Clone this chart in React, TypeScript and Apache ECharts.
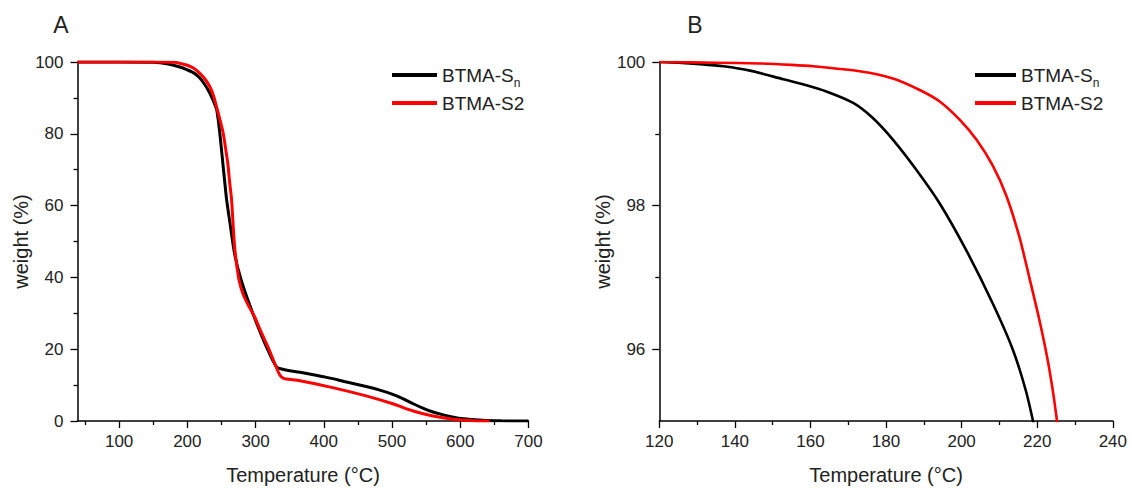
import React, { useEffect, useRef } from "react";
import * as echarts from "echarts";

const FONT = '"Liberation Sans", Arial, Helvetica, sans-serif';

const seriesNames = ["BTMA-Sn", "BTMA-S2"];

// Panel A – full TGA range
const tempA_Sn = [39, 100, 150, 170, 189, 200, 210, 218, 226, 233, 238, 243, 247.5, 252.4, 257.4, 262.2, 269.5, 279.3, 296.3, 316, 330.6, 340, 350, 365, 400, 413, 430, 462, 482, 500, 515, 531, 545, 560, 575, 590, 605, 619, 640, 660, 700];
const weightA_Sn = [100, 100, 99.9, 99.5, 98.6, 97.8, 96.9, 95.6, 93.6, 91.3, 89.2, 86.7, 80.3, 71.1, 61.9, 55.5, 46.3, 39.0, 29.8, 20.6, 15.1, 14.4, 14.0, 13.6, 12.3, 11.8, 11.0, 9.6, 8.6, 7.5, 6.3, 4.8, 3.6, 2.5, 1.7, 1.05, 0.6, 0.4, 0.15, 0.05, 0];

const tempA_S2 = [39, 150, 180, 190, 200, 210, 218, 226, 233, 238, 242.7, 247, 252.4, 256, 259.7, 262, 264.7, 266.5, 268, 270, 272.9, 276, 281.7, 290, 298.8, 308, 318.3, 327, 335.5, 340, 345, 365, 413, 462, 501, 531, 560, 589, 619, 643];
const weightA_S2 = [100, 100, 99.9, 99.6, 99.1, 98.2, 96.9, 95.2, 93.1, 90.8, 87.6, 84.5, 80.3, 76, 71.1, 66.5, 61.9, 56.5, 51.8, 47, 42.7, 39, 35.3, 32, 28.9, 24.8, 20.6, 16.5, 12.8, 12.0, 11.7, 11.2, 9.3, 7.0, 4.8, 2.8, 1.4, 0.5, 0.1, 0];

// Panel B – zoom on onset of decomposition
const tempB_Sn = [120, 125, 130.8, 137, 144, 152.8, 158, 164.2, 171.3, 176.5, 181.8, 188, 194.2, 201.2, 208.2, 213.5, 217.1, 219.5];
const weightB_Sn = [100, 99.99, 99.97, 99.94, 99.88, 99.76, 99.69, 99.59, 99.43, 99.22, 98.92, 98.5, 98.03, 97.38, 96.64, 96.0, 95.4, 94.85];

const tempB_S2 = [120, 135, 146.6, 155, 160.7, 173, 181.8, 188.9, 194.2, 199.4, 203.9, 208.2, 211.8, 215.3, 217.9, 220.6, 222.8, 224.3, 225.6];
const weightB_S2 = [100, 99.99, 99.98, 99.96, 99.94, 99.87, 99.77, 99.61, 99.45, 99.2, 98.92, 98.56, 98.14, 97.56, 97.0, 96.4, 95.84, 95.36, 94.85];

const xTicksA = [100, 200, 300, 400, 500, 600, 700];
const xMinorA = [50, 150, 250, 350, 450, 550, 650];
const yTicksB = [96, 98, 100];
const yMinorB = [97, 99];

const zip = (t: number[], w: number[]) => t.map((v, i) => [v, w[i]]);

export default function App() {
  const ref = useRef<HTMLDivElement>(null);
  useEffect(() => {
    const chart = echarts.init(ref.current!, null, { renderer: "svg" });
    const labelStyle = { color: "#222", fontSize: 17, fontFamily: FONT };
    const nameStyle = { color: "#222", fontSize: 20, fontFamily: FONT };
    const lineStyle = { color: "#000", width: 1.3 };
    const axisLine = { show: true, onZero: false, lineStyle: { color: "#000", width: 1.5 } };
    const noSplit = { show: false };

    const legendCommon = {
      data: seriesNames,
      orient: "vertical",
      top: 56,
      itemHeight: 4,
      itemGap: 0,
      icon: "rect",
      formatter: (name: string) => (name === "BTMA-Sn" ? "BTMA-S{sub|n}" : name),
      textStyle: {
        color: "#222",
        fontSize: 19,
        fontFamily: FONT,
        lineHeight: 28,
        rich: {
          sub: { fontSize: 12, lineHeight: 12, verticalAlign: "bottom", fontFamily: FONT, color: "#222" },
        },
      },
    };

    const common = { showSymbol: false, smooth: 0.25 };

    const option = {
      animation: false,
      backgroundColor: "#fff",
      grid: [
        { left: 77.5, top: 62, width: 451, height: 363 },
        { left: 659.3, top: 62, width: 454.2, height: 363 },
      ],
      legend: [
        { ...legendCommon, left: 387, itemWidth: 45 },
        { ...legendCommon, left: 970, itemWidth: 41 },
      ],
      xAxis: [
        {
          gridIndex: 0, type: "value", min: 39, max: 700, position: "bottom",
          axisLine, splitLine: noSplit,
          axisTick: { show: true, customValues: xTicksA, length: 7, lineStyle },
          axisLabel: { customValues: xTicksA, margin: 12, ...labelStyle },
          name: "Temperature (°C)", nameLocation: "middle", nameGap: 44, nameTextStyle: nameStyle,
        },
        {
          gridIndex: 0, type: "value", min: 39, max: 700, position: "bottom",
          axisLine: { show: false }, splitLine: noSplit,
          axisTick: { show: true, customValues: xMinorA, length: 4, lineStyle },
          axisLabel: { show: false },
        },
        {
          gridIndex: 1, type: "value", min: 120, max: 240, interval: 20, position: "bottom",
          axisLine, splitLine: noSplit,
          axisTick: { show: true, length: 7, lineStyle },
          minorTick: { show: true, splitNumber: 2, length: 4, lineStyle },
          minorSplitLine: { show: false },
          axisLabel: { margin: 12, ...labelStyle },
          name: "Temperature (°C)", nameLocation: "middle", nameGap: 44, nameTextStyle: nameStyle,
        },
      ],
      yAxis: [
        {
          gridIndex: 0, type: "value", min: 0, max: 100, interval: 20, position: "left",
          axisLine, splitLine: noSplit,
          axisTick: { show: true, length: 7, lineStyle },
          minorTick: { show: true, splitNumber: 2, length: 4, lineStyle },
          minorSplitLine: { show: false },
          axisLabel: { margin: 14, ...labelStyle },
          name: "weight (%)", nameLocation: "middle", nameGap: 46, nameTextStyle: nameStyle,
        },
        {
          gridIndex: 1, type: "value", min: 95, max: 100, position: "left",
          axisLine, splitLine: noSplit,
          axisTick: { show: true, customValues: yTicksB, length: 7, lineStyle },
          axisLabel: { customValues: yTicksB, margin: 14, ...labelStyle },
          name: "weight (%)", nameLocation: "middle", nameGap: 46, nameTextStyle: nameStyle,
        },
        {
          gridIndex: 1, type: "value", min: 95, max: 100, position: "left",
          axisLine: { show: false }, splitLine: noSplit,
          axisTick: { show: true, customValues: yMinorB, length: 4, lineStyle },
          axisLabel: { show: false },
        },
      ],
      graphic: [
        { type: "text", x: 61, y: 25, style: { text: "A", fontSize: 23, fontFamily: FONT, fill: "#222", align: "center", verticalAlign: "middle" } },
        { type: "text", x: 695, y: 25, style: { text: "B", fontSize: 23, fontFamily: FONT, fill: "#222", align: "center", verticalAlign: "middle" } },
      ],
      series: [
        {
          name: "BTMA-Sn", type: "line", xAxisIndex: 0, yAxisIndex: 0, data: zip(tempA_Sn, weightA_Sn), ...common,
          lineStyle: { color: "#000", width: 3 }, itemStyle: { color: "#000" },
        },
        {
          name: "BTMA-S2", type: "line", xAxisIndex: 0, yAxisIndex: 0, data: zip(tempA_S2, weightA_S2), ...common,
          lineStyle: { color: "#ff0000", width: 3 }, itemStyle: { color: "#ff0000" },
        },
        {
          name: "BTMA-Sn", type: "line", xAxisIndex: 2, yAxisIndex: 1, data: zip(tempB_Sn, weightB_Sn), ...common,
          lineStyle: { color: "#000", width: 2.6 }, itemStyle: { color: "#000" },
        },
        {
          name: "BTMA-S2", type: "line", xAxisIndex: 2, yAxisIndex: 1, data: zip(tempB_S2, weightB_S2), ...common,
          lineStyle: { color: "#ff0000", width: 2.6 }, itemStyle: { color: "#ff0000" },
        },
      ],
    };
    chart.setOption(option as any);
    return () => chart.dispose();
  }, []);
  return (
    <div
      ref={ref}
      style={{ position: "fixed", left: 0, top: 0, width: 1130, height: 490, background: "#fff" }}
    />
  );
}
